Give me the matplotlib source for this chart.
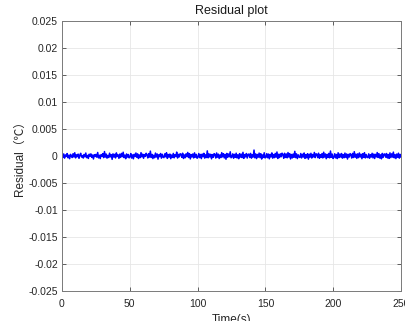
import numpy as np
import matplotlib.pyplot as plt

plt.rcParams['font.family'] = ['Liberation Sans', 'Noto Sans CJK SC', 'DejaVu Sans']

# residual values, in units of 1e-5 degC
residual_1e5 = [
    12, -25, 38, -40, 20, -8, 45, -33, 15, -50, 30, 5, -28, 42, -18, 60, -35, 22, -12, 35,
    -42, 18, 50, -20, 8, -38, 28, -15, 55, -30, 10, -45, 33, -5, 40, -25, 18, -55, 25, -10,
    30, -22, 65, -35, 14, -48, 26, -6, 44, -30, 82, -20, 36, -40, 12, -28, 52, -15, 24, -62,
    40, -18, 30, -36, 58, -8, 22, -44, 35, -26, 48, -12, 70, -30, 16, -50, 38, -20, 28, -34,
    -15, 45, -38, 20, -52, 32, -10, 56, -24, 40, -46, 18, -30, 62, -16, 34, -42, 26, -8, 50,
    22, -36, 44, -20, 90, -28, 30, -48, 14, -32, 54, -18, 38, -58, 24, -12, 46, -40, 32, -22,
    -30, 40, -14, 60, -44, 28, -20, 36, -50, 18, -26, 48, -34, 24, -10, 72, -38, 30, -16, 42,
    34, -24, 52, -46, 20, -32, 40, -12, 66, -28, 44, -54, 26, -18, 38, -36, 58, -22, 30, -42,
    -20, 46, -30, 28, -48, 36, -14, 50, -40, 22, -28, 95, -34, 40, -18, 32, -52, 26, -24, 44,
    28, -38, 56, -22, 34, -46, 20, -30, 62, -16, 42, -36, 30, -60, 48, -26, 36, -14, 78, -32,
    -18, 40, -42, 30, -24, 52, -36, 22, -50, 44, -20, 34, -30, 68, -44, 26, -16, 46, -38, 30,
    36, -28, 48, -40, 24, -20, 110, -34, 38, -48, 28, -22, 54, -30, 42, -56, 20, -26, 60, -36,
    -24, 44, -32, 36, -52, 30, -18, 58, -40, 26, -30, 48, -22, 74, -46, 32, -28, 40, -14, 52,
    30, -42, 50, -26, 38, -34, 64, -20, 44, -54, 28, -36, 36, -24, 86, -30, 40, -48, 22, -18,
    -28, 46, -36, 32, -20, 56, -44, 26, -32, 42, -58, 34, -22, 50, -38, 28, -16, 66, -30, 40,
    34, -30, 52, -42, 24, -26, 44, -36, 70, -20, 38, -50, 30, -28, 48, -34, 92, -24, 36, -46,
    -22, 42, -34, 28, -48, 60, -30, 36, -18, 46, -40, 26, -32, 54, -24, 38, -56, 30, -20, 44,
    26, -38, 48, -28, 80, -22, 34, -44, 40, -30, 56, -18, 32, -50, 42, -26, 62, -36, 28, -24,
    -30, 40, -42, 24, -20, 50, -34, 36, -46, 30, -16, 64, -28, 44, -38, 22, -52, 48, -26, 34,
    38, -22, 46, -36, 28, -44, 58, -30, 40, -20, 72, -34, 26, -48, 36, -24, 52, -40, 30, -18,
]

x_ticks = [0, 50, 100, 150, 200, 250]
y_ticks = [-0.025, -0.02, -0.015, -0.01, -0.005, 0, 0.005, 0.01, 0.015, 0.02, 0.025]
y_tick_labels = ['-0.025', '-0.02', '-0.015', '-0.01', '-0.005', '0',
                 '0.005', '0.01', '0.015', '0.02', '0.025']

residual = np.array(residual_1e5) * 1e-5
time = np.linspace(0, 250, len(residual))

fig = plt.figure(figsize=(4.06, 3.21), dpi=100)
ax = fig.add_axes([62 / 406, 30 / 321, 339 / 406, 270 / 321])

ax.plot(time, residual, color=(0, 0, 1), linewidth=1.1)

ax.set_xlim(0, 250)
ax.set_ylim(-0.025, 0.025)
ax.set_xticks(x_ticks)
ax.set_yticks(y_ticks)
ax.set_yticklabels(y_tick_labels)
ax.grid(True, color='#e6e6e6', linewidth=0.6)
ax.set_axisbelow(True)

ax.tick_params(direction='in', top=True, right=True, length=3, width=0.5,
               labelsize=7.5, colors='#262626', pad=3)
ax.tick_params(axis='x', pad=6)
for s in ax.spines.values():
    s.set_color('#7a7a7a')
    s.set_linewidth(0.7)

ax.set_title('Residual plot', fontsize=9, color='#1a1a1a', pad=5)
ax.set_xlabel('Time(s)', fontsize=8.5, color='#262626', labelpad=3)
ax.set_ylabel('Residual（℃）', fontsize=8.5, color='#262626', labelpad=2)

fig.savefig('out.png', dpi=100)
